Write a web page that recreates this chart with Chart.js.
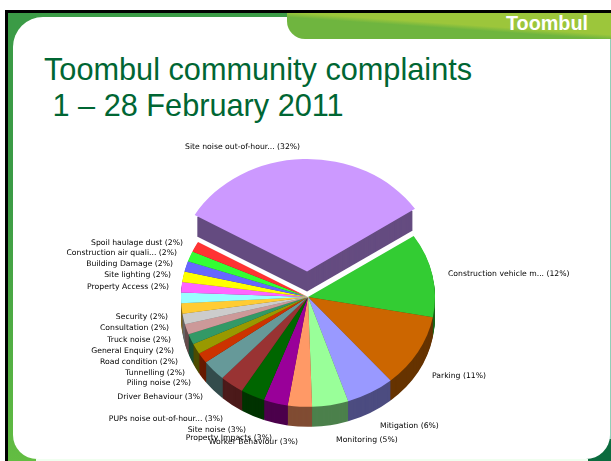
<!DOCTYPE html>
<html lang="en">
<head>
<meta charset="UTF-8">
<title>Toombul community complaints</title>
<script src="https://cdn.jsdelivr.net/npm/chart.js"></script>
<style>
  html, body { margin: 0; padding: 0; width: 611px; height: 461px; overflow: hidden; background: #fff; font-family: 'Liberation Sans', Arial, sans-serif; }
  .black { position: absolute; left: 5px; top: 10px; width: 606px; height: 451px; background: #000; }
  .frame { position: absolute; left: 8px; top: 13px; width: 603px; height: 448px; background: linear-gradient(#3b9b46 0, #3b9b46 40%, #63bd42 100%); }
  .edge { position: absolute; right: 0; top: 26px; width: 2px; height: 422px; background: #8fd0b8; }
  .corner { position: absolute; right: 0; bottom: 0; width: 40px; height: 22px; background: #0b6b3e; }
  .panel { position: absolute; left: 13px; top: 17px; width: 597px; height: 442px; background: #fff; border-radius: 30px 0 24px 24px; }
  .foot { position: absolute; left: 36px; top: 459px; width: 552px; height: 2px; background: #f0fff0; }
  .tab { position: absolute; left: 287px; top: 13px; width: 324px; height: 26px; background: linear-gradient(184deg, #9cc63b 0, #9cc63b 45%, #6fb53f 55%, #6fb53f 100%); border-bottom-left-radius: 18px; }
  .tab span { position: absolute; left: 219px; top: -1px; color: #fff; font-weight: bold; font-size: 19.8px; }
  h1 { position: absolute; margin: 0; font-weight: normal; color: #006633; font-size: 30.7px; white-space: pre; line-height: 38px; }
  canvas { position: absolute; left: 0; top: 0; }
</style>
</head>
<body>
<div class="black"></div>
<div class="frame"><div class="edge"></div><div class="corner"></div></div>
<div class="panel"></div>
<div class="foot"></div>
<div class="tab"><span>Toombul</span></div>
<h1 style="left:44px;top:51px">Toombul community complaints</h1>
<h1 style="left:44px;top:87px"> 1 – 28 February 2011</h1>
<canvas id="pie" width="611" height="461"></canvas>
<script>
const categories = ['Site noise out-of-hour...', 'Construction vehicle m...', 'Parking', 'Mitigation', 'Monitoring',
  'Worker Behaviour', 'Property Impacts', 'Site noise', 'PUPs noise out-of-hour...', 'Driver Behaviour',
  'Piling noise', 'Tunnelling', 'Road condition', 'General Enquiry', 'Truck noise', 'Consultation', 'Security',
  'Property Access', 'Site lighting', 'Building Damage', 'Construction air quali...', 'Spoil haulage dust'];
const complaints = [21, 8, 7, 4, 3, 2, 2, 2, 2, 2, 1, 1, 1, 1, 1, 1, 1, 1, 1, 1, 1, 1];
const colours = ['#cc99ff', '#33cc33', '#cc6600', '#9999ff', '#99ff99', '#ff9966', '#990099', '#006600', '#993333', '#669999',
  '#cc3300', '#999900', '#339966', '#cc9999', '#cccccc', '#ffcc33', '#99ffff', '#ff66ff', '#ffff00', '#6666ff', '#33ff33', '#ff3333'];
const wallColours = ['#654c80', '#1a661a', '#663300', '#4c4c80', '#4c804c', '#804c33', '#4c004c', '#003300', '#4c1a1a', '#334c4c',
  '#661a00', '#4c4c00', '#1a4c33', '#664c4c', '#666666', '#80661a', '#4c8080', '#803380', '#808000', '#333380', '#1a801a', '#801a1a'];

// where the label text sits: [x, y, align], same order as categories
const labelSpots = [[185, 147, 'left'], [448, 274, 'left'], [432, 376, 'left'], [380, 426, 'left'], [336, 440, 'left'],
  [298, 442, 'right'], [272, 438, 'right'], [246, 430, 'right'], [223, 419, 'right'], [203, 397, 'right'],
  [191, 383, 'right'], [185, 373, 'right'], [178, 362, 'right'], [174, 351, 'right'], [171, 340, 'right'], [169, 328, 'right'], [168, 317, 'right'],
  [169, 287, 'right'], [171, 275, 'right'], [173, 264, 'right'], [177, 253, 'right'], [183, 243, 'right']];

const squash = 0.865, depth = 20;
const total = complaints.reduce((a, b) => a + b, 0);

function squashAround(ctx, arc) {
  ctx.translate(arc.x, arc.y);
  ctx.scale(1, squash);
  ctx.translate(-arc.x, -arc.y);
}

const tilted = {
  id: 'tilted',
  beforeDatasetsDraw(chart) {
    const ctx = chart.ctx, arcs = chart.getDatasetMeta(0).data;
    // side wall, stacked up from the bottom. the arc element moves by offset/4 when it draws
    for (let d = depth; d > 0; d--) {
      arcs.forEach((arc, i) => {
        const mid = (arc.startAngle + arc.endAngle) / 2, off = (arc.options.offset || 0) / 4;
        const ox = arc.x + Math.cos(mid) * off, oy = arc.y + Math.sin(mid) * off;
        ctx.save();
        ctx.translate(0, d);
        squashAround(ctx, arc);
        ctx.beginPath();
        ctx.moveTo(ox, oy);
        ctx.arc(ox, oy, arc.outerRadius, arc.startAngle, arc.endAngle);
        ctx.closePath();
        ctx.fillStyle = wallColours[i];
        ctx.fill();
        ctx.restore();
      });
    }
    ctx.save();
    squashAround(ctx, arcs[0]);
  },
  afterDatasetsDraw(chart) {
    chart.ctx.restore();
  },
  afterDraw(chart) {
    const ctx = chart.ctx;
    ctx.save();
    ctx.font = '7.7px "DejaVu Sans"';
    ctx.fillStyle = '#000';
    ctx.textBaseline = 'middle';
    categories.forEach((name, i) => {
      ctx.textAlign = labelSpots[i][2];
      ctx.fillText(name + ' (' + Math.round(complaints[i] / total * 100) + '%)', labelSpots[i][0], labelSpots[i][1]);
    });
    ctx.restore();
  }
};

new Chart(document.getElementById('pie'), {
  type: 'pie',
  data: {
    labels: categories,
    datasets: [{
      data: complaints,
      backgroundColor: colours,
      borderWidth: 0,
      offset: complaints.map((v, i) => i === 0 ? 118 : 0),
      radius: 127
    }]
  },
  options: {
    responsive: false,
    animation: false,
    rotation: -60,
    layout: { padding: { left: 5, top: 133 } },
    plugins: { legend: { display: false }, tooltip: { enabled: false } }
  },
  plugins: [tilted]
});
</script>
</body>
</html>
